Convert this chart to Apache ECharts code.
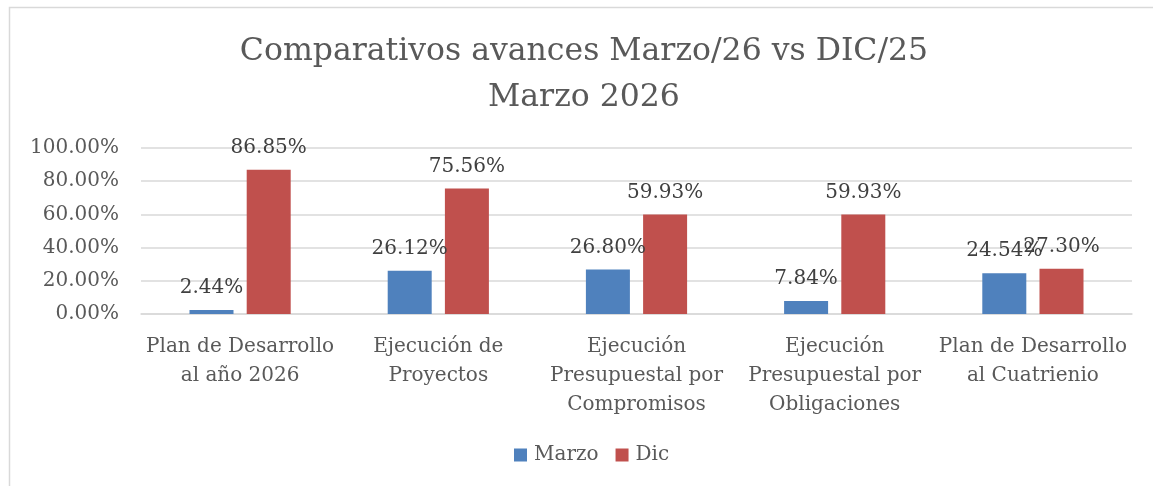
<!DOCTYPE html>
<html>
<head>
<meta charset="utf-8">
<title>Comparativos avances</title>
<script src="https://cdn.jsdelivr.net/npm/echarts@6/dist/echarts.min.js"></script>
<style>
    html, body { margin: 0; padding: 0; background: #fff; }
    #chart { width: 1153px; height: 486px; }
</style>
</head>
<body>
<div id="chart"></div>
<script>
    var categories = [
        'Plan de Desarrollo\nal año 2026',
        'Ejecución de\nProyectos',
        'Ejecución\nPresupuestal por\nCompromisos',
        'Ejecución\nPresupuestal por\nObligaciones',
        'Plan de Desarrollo\nal Cuatrienio'
    ];
    var marzo = [2.44, 26.12, 26.80, 7.84, 24.54];
    var dic = [86.85, 75.56, 59.93, 59.93, 27.30];
    var seriesNames = ['Marzo', 'Dic'];

    var serif = '"DejaVu Serif", serif';
    var textGray = '#595959';

    var myChart = echarts.init(document.getElementById('chart'));
    var barLabel = {
        show: true,
        position: 'top',
        distance: 12,
        fontFamily: serif,
        fontSize: 20,
        color: '#404040',
        formatter: function (p) { return p.value.toFixed(2) + '%'; }
    };
    var option = {
        backgroundColor: '#fff',
        animation: false,
        textStyle: { fontFamily: serif },
        graphic: [{
            type: 'rect',
            shape: { x: 9.5, y: 7.5, width: 1200, height: 600 },
            style: { fill: 'none', stroke: '#d9d9d9', lineWidth: 1.5 },
            silent: true
        }],
        title: {
            text: 'Comparativos avances Marzo/26 vs DIC/25\nMarzo 2026',
            left: 584,
            textAlign: 'center',
            top: 29,
            padding: 0,
            textStyle: {
                fontFamily: serif,
                fontWeight: 'normal',
                fontSize: 31.5,
                lineHeight: 46,
                color: textGray
            }
        },
        legend: {
            data: seriesNames,
            bottom: 16,
            left: 509,
            itemWidth: 13,
            itemHeight: 13,
            itemGap: 17,
            icon: 'rect',
            textStyle: { fontFamily: serif, fontSize: 20, color: textGray, padding: [0, 0, 0, 2] }
        },
        grid: { left: 141, right: 21, top: 148, bottom: 172 },
        xAxis: {
            type: 'category',
            data: categories,
            axisLine: { lineStyle: { color: '#d9d9d9', width: 1.5 } },
            axisTick: { show: false },
            axisLabel: {
                margin: 18,
                fontFamily: serif,
                fontSize: 20,
                lineHeight: 29,
                color: textGray,
                interval: 0
            }
        },
        yAxis: {
            type: 'value',
            min: 0,
            max: 100,
            interval: 20,
            axisLine: { show: false },
            axisTick: { show: false },
            splitLine: { lineStyle: { color: '#d9d9d9', width: 1.5 } },
            axisLabel: {
                margin: 22,
                fontFamily: serif,
                fontSize: 20,
                color: textGray,
                formatter: function (v) { return v.toFixed(2) + '%'; }
            }
        },
        series: [{
            name: seriesNames[0],
            type: 'bar',
            data: marzo,
            barWidth: 44,
            barGap: '30%',
            itemStyle: { color: '#4f81bd' },
            label: barLabel
        }, {
            name: seriesNames[1],
            type: 'bar',
            data: dic,
            barWidth: 44,
            barGap: '30%',
            itemStyle: { color: '#c0504d' },
            label: barLabel
        }]
    };
    myChart.setOption(option);
</script>
</body>
</html>
